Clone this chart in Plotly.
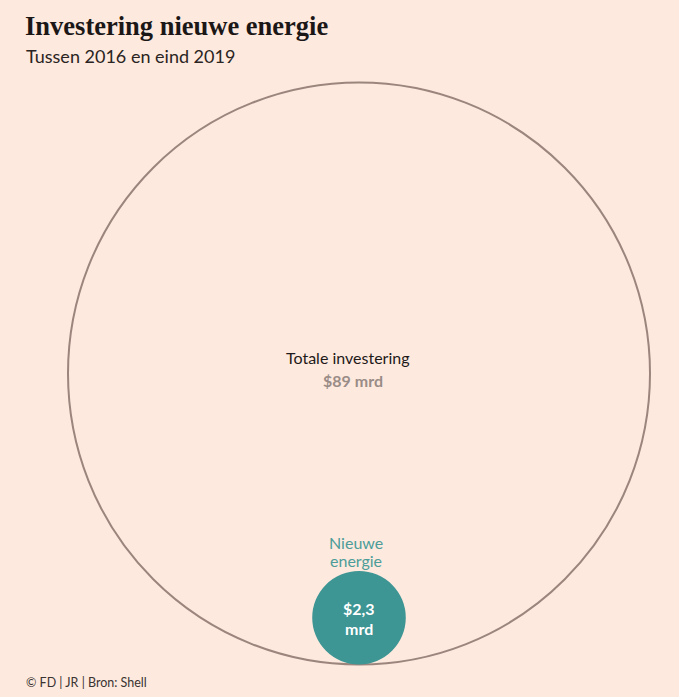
import math
import plotly.graph_objects as go

# Data
labels = ["Totale investering", "Nieuwe energie"]
values = [89, 2.3]  # miljard dollar
value_texts = ["$89 mrd", "$2,3 mrd"]

W, H = 679, 697
BG = "#fde9de"

R = math.sqrt(values[0])
r = math.sqrt(values[1])

px_per_unit = 291 / R
cx_px, cy_px = 359, 373.5
x_range = [-cx_px / px_per_unit, (W - cx_px) / px_per_unit]
y_range = [-(H - cy_px) / px_per_unit, cy_px / px_per_unit]

fig = go.Figure()

# Big circle (total)
fig.add_shape(type="circle", xref="x", yref="y",
              x0=-R, x1=R, y0=-R, y1=R,
              line=dict(color="#9b857d", width=2), fillcolor="rgba(0,0,0,0)")
# Small circle (new energy), bottom-aligned
scy = -R + r
fig.add_shape(type="circle", xref="x", yref="y",
              x0=-r, x1=r, y0=scy - r, y1=scy + r,
              line=dict(color="#3d9594", width=0), fillcolor="#3d9594")

# invisible trace to keep axes
fig.add_trace(go.Scatter(x=[0], y=[0], mode="markers", marker=dict(opacity=0),
                         hoverinfo="skip", showlegend=False))

u = 1 / px_per_unit
FS = 16
fig.add_annotation(x=-11 * u, y=16.5 * u, xref="x", yref="y", text=labels[0],
                   showarrow=False, font=dict(family="Lato", size=FS, color="#1e1a19"))
fig.add_annotation(x=-6 * u, y=-6.5 * u, xref="x", yref="y", text=f"<b>{value_texts[0]}</b>",
                   showarrow=False, font=dict(family="Lato", size=FS, color="#9a8c87"))
name_words = labels[1].split(" ")
for i, w in enumerate(name_words):
    fig.add_annotation(x=-3.5 * u, y=scy + r + (28 - 18 * i) * u, xref="x", yref="y",
                       text=w, showarrow=False,
                       font=dict(family="Lato", size=FS, color="#4c9d99"))
val_words = value_texts[1].split(" ")
for i, w in enumerate(val_words):
    fig.add_annotation(x=0, y=scy + (9.5 - 20 * i) * u, xref="x", yref="y",
                       text=f"<b>{w}</b>", showarrow=False,
                       font=dict(family="Lato", size=FS, color="white"))

# Title, subtitle, footer
fig.add_annotation(x=23 / W, y=1 - 9 / H, xref="paper", yref="paper", xanchor="left", yanchor="top",
                   text="<b>Investering nieuwe energie</b>", showarrow=False,
                   font=dict(family="Liberation Serif", size=26.5, color="#1c1717"))
fig.add_annotation(x=24 / W, y=1 - 43 / H, xref="paper", yref="paper", xanchor="left", yanchor="top",
                   text="Tussen 2016 en eind 2019", showarrow=False,
                   font=dict(family="Lato", size=18, color="#2a2422"))
fig.add_annotation(x=24 / W, y=1 - 673 / H, xref="paper", yref="paper", xanchor="left", yanchor="top",
                   text="© FD | JR | Bron: Shell", showarrow=False,
                   font=dict(family="Lato", size=12.5, color="#3a3331"))

fig.update_layout(
    width=W, height=H,
    margin=dict(l=0, r=0, t=0, b=0),
    paper_bgcolor=BG, plot_bgcolor=BG,
    xaxis=dict(range=x_range, visible=False, fixedrange=True),
    yaxis=dict(range=y_range, visible=False, fixedrange=True),
    showlegend=False,
)

fig.write_html("out.html")
